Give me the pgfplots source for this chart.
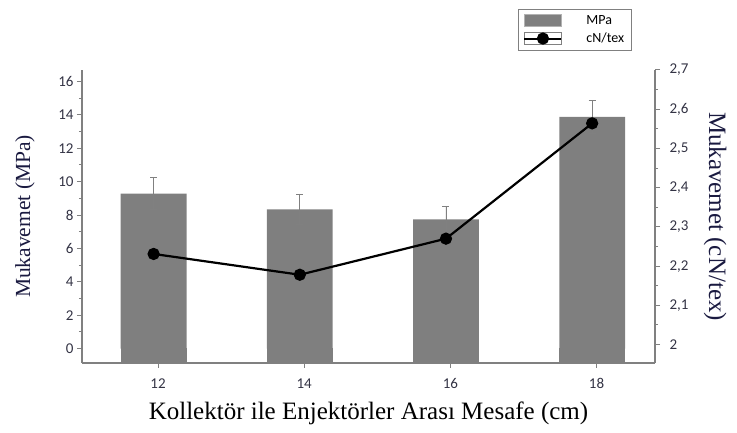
\documentclass[border=0pt]{standalone}
\usepackage{pgfplots}
\pgfplotsset{compat=1.18}
\usepackage{fontspec}
\setmainfont{Carlito}
\newfontfamily\tnr{Liberation Serif}
\definecolor{barc}{HTML}{7F7F7F}
\definecolor{axc}{HTML}{808080}
\definecolor{lblc}{HTML}{1A1A40}
\definecolor{tickc}{HTML}{333344}
\pgfplotsset{common/.style={
  scale only axis, width=573pt, height=293pt,
  xmin=11.02, xmax=18.86,
  axis line style={axc, line width=1.2pt},
  tick style={axc, line width=1pt},
  tick label style={font=\fontsize{15}{17}\selectfont, text=tickc},
  /pgf/number format/assume math mode=true,
  /pgf/number format/use comma,
  major tick length=5pt, minor tick length=3pt,
  tick align=outside,
}}
\begin{document}
\begin{tikzpicture}
\useasboundingbox (-82pt,-70pt) rectangle (655pt,363pt);
\begin{axis}[common,
  axis x line*=bottom, axis y line*=left,
  ymin=-0.856, ymax=16.68,
  ytick={0,2,4,6,8,10,12,14,16}, minor y tick num=1,
  xtick={12.06,14.06,16.06,18.06}, xticklabels={12,14,16,18},
  xticklabel style={yshift=-7pt},
  xlabel={Kollektör ile Enjektörler Arası Mesafe (cm)},
  ylabel={Mukavemet (MPa)},
  every axis x label/.style={at={(axis description cs:0.5,-0.171)}, anchor=center, font=\tnr\fontsize{25}{28}\selectfont, text=black},
  every axis y label/.style={at={(axis description cs:-0.0995,0.5)}, anchor=center, rotate=90, font=\tnr\fontsize{21.5}{24}\selectfont, text=lblc},
]
\addplot[ybar, bar shift=0pt, bar width=0.9, fill=barc, draw=none,
  error bars/.cd, y dir=both, y explicit,
  error bar style={gray, line width=0.8pt},
  error mark options={rotate=90, mark size=3.5pt, gray, line width=0.8pt}]
  coordinates {(12,9.28) +- (0,0.96) (14,8.34) +- (0,0.92) (16,7.74) +- (0,0.80) (18,13.88) +- (0,0.98)};
% part of each bar below the zero line, down to the axis floor
\addplot[ybar, bar shift=0pt, bar width=0.885, fill=barc, draw=barc, line width=1.2pt]
  coordinates {(12,-0.856) (14,-0.856) (16,-0.856) (18,-0.856)};
\end{axis}
\begin{axis}[common,
  axis y line*=right, axis x line=none,
  ymin=1.953, ymax=2.7,
  ytick={2,2.1,2.2,2.3,2.4,2.5,2.6,2.7},
  yticklabels={2,{2,1},{2,2},{2,3},{2,4},{2,5},{2,6},{2,7}},
  minor y tick num=1,
  yticklabel style={xshift=6pt},
  ylabel={Mukavemet (cN/tex)},
  every axis y label/.style={at={(axis description cs:1.105,0.5)}, anchor=center, rotate=-90, font=\tnr\fontsize{25}{28}\selectfont, text=lblc},
  legend style={at={(axis description cs:0.761,1.208)}, anchor=north west, draw=axc, line width=0.8pt, font=\fontsize{14}{16}\selectfont, inner xsep=5pt, inner ysep=4pt, row sep=3pt,
    /tikz/every odd column/.style={column sep=22pt},
    /tikz/every even column/.style={column sep=8pt}},
  legend cell align=left,
]
\addlegendimage{legend image code/.code={\draw[fill=barc, draw=barc!60!white] (0pt,-6pt) rectangle (37pt,6pt);}}
\addlegendentry{MPa}
\addplot[black, line width=2.2pt, mark=*, mark size=5pt,
  legend image code/.code={\draw[axc, line width=0.6pt] (0pt,-6pt) rectangle (37pt,6pt);
    \draw[black, line width=2pt] (0pt,0pt) -- (37pt,0pt);
    \fill[black] (18.5pt,0pt) circle (5pt);}]
  coordinates {(12,2.231) (14,2.178) (16,2.270) (18,2.564)};
\addlegendentry{cN/tex}
\end{axis}
\end{tikzpicture}
\end{document}
